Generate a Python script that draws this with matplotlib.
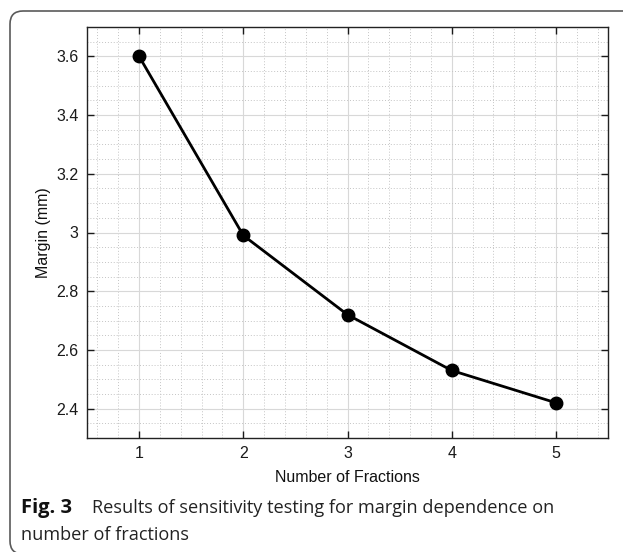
import matplotlib
matplotlib.use('Agg')
import matplotlib.pyplot as plt
from matplotlib.patches import FancyBboxPatch
from matplotlib.ticker import MultipleLocator

# 数据
fractions = [1, 2, 3, 4, 5]
margin = [3.6, 2.99, 2.72, 2.53, 2.42]
x_ticks = [1, 2, 3, 4, 5]
y_ticks = [2.4, 2.6, 2.8, 3.0, 3.2, 3.4, 3.6]
y_labels = ['2.4', '2.6', '2.8', '3', '3.2', '3.4', '3.6']

plt.rcParams['font.family'] = ['Liberation Sans', 'DejaVu Sans']

W, H = 623, 552
fig = plt.figure(figsize=(W / 100, H / 100), dpi=100)

# 外框 (圆角, 右侧和底部超出画面)
box = FancyBboxPatch((0.10, -0.02), 6.6, 5.43,
                     boxstyle='round,pad=0,rounding_size=0.13',
                     transform=fig.dpi_scale_trans, fill=False,
                     edgecolor='#5a5a5a', linewidth=1.2, clip_on=False)
fig.patches.append(box)

ax = fig.add_axes([87 / W, 1 - 438 / H, (608 - 87) / W, (438 - 27) / H])
ax.plot(fractions, margin, color='black', linewidth=2.0,
        marker='o', markersize=9, markerfacecolor='black', zorder=3)

ax.set_xlim(0.5, 5.5)
ax.set_ylim(2.3, 3.7)
ax.set_xticks(x_ticks)
ax.set_yticks(y_ticks)
ax.set_yticklabels(y_labels)
ax.xaxis.set_minor_locator(MultipleLocator(0.2))
ax.yaxis.set_minor_locator(MultipleLocator(0.05))

ax.grid(True, which='major', color='#d8d8d8', linewidth=0.8, linestyle='-')
ax.grid(True, which='minor', color='#c4c4c4', linewidth=0.7, linestyle=(0, (1, 2)))
ax.set_axisbelow(True)

ax.tick_params(which='major', direction='in', top=True, right=True,
               length=5, width=1, labelsize=11.5, colors='#1a1a1a', pad=6)
ax.tick_params(which='minor', length=0)
for sp in ax.spines.values():
    sp.set_linewidth(1.0)
    sp.set_color('#222222')

ax.set_xlabel('Number of Fractions', fontsize=11.5, labelpad=6, color='#111111')
ax.set_ylabel('Margin (mm)', fontsize=11.5, labelpad=4, color='#111111')

# 图注
fig.text(21 / W, 1 - 513 / H, 'Fig. 3', fontsize=14.5, fontweight='bold',
         va='baseline', ha='left', family='Open Sans', color='#111111')
fig.text(92 / W, 1 - 513 / H,
         'Results of sensitivity testing for margin dependence on',
         fontsize=13.1, va='baseline', ha='left', family='Open Sans', color='#222222')
fig.text(21 / W, 1 - 540 / H, 'number of fractions',
         fontsize=13.1, va='baseline', ha='left', family='Open Sans', color='#222222')

fig.savefig('out.png', dpi=100)
